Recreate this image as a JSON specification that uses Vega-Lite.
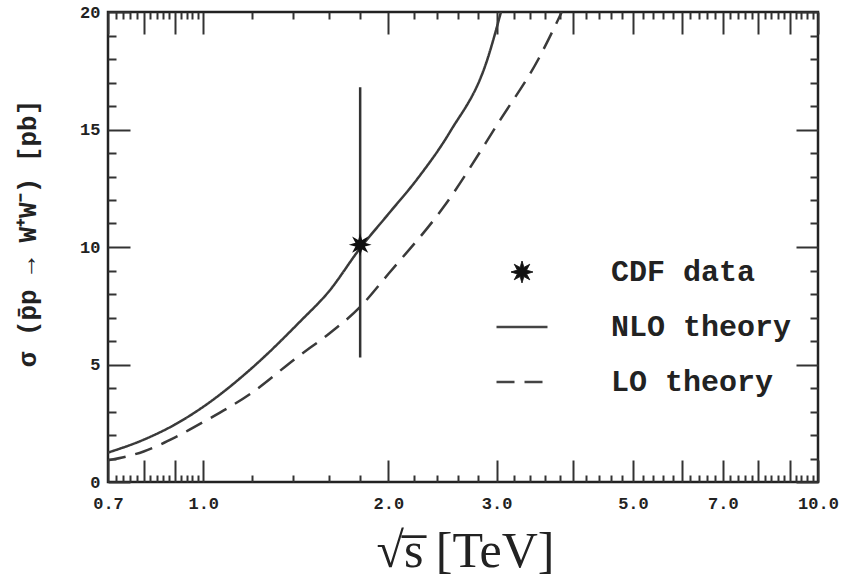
{
  "$schema": "https://vega.github.io/schema/vega-lite/v6.json",
  "width": 710,
  "height": 470,
  "autosize": {"type": "none"},
  "padding": {"left": 108, "top": 12, "right": 26, "bottom": 94},
  "background": "white",
  "datasets": {
    "theory": [
      {"series": "NLO theory", "s": 0.7, "sigma": 1.25},
      {"series": "NLO theory", "s": 0.8, "sigma": 1.8},
      {"series": "NLO theory", "s": 0.9, "sigma": 2.45},
      {"series": "NLO theory", "s": 1.0, "sigma": 3.2},
      {"series": "NLO theory", "s": 1.2, "sigma": 4.85},
      {"series": "NLO theory", "s": 1.44, "sigma": 6.85},
      {"series": "NLO theory", "s": 1.6, "sigma": 8.1},
      {"series": "NLO theory", "s": 1.8, "sigma": 9.95},
      {"series": "NLO theory", "s": 2.0, "sigma": 11.4},
      {"series": "NLO theory", "s": 2.23, "sigma": 12.9},
      {"series": "NLO theory", "s": 2.52, "sigma": 14.9},
      {"series": "NLO theory", "s": 2.9, "sigma": 18.0},
      {"series": "NLO theory", "s": 3.05, "sigma": 20.0},
      {"series": "LO theory", "s": 0.7, "sigma": 0.92},
      {"series": "LO theory", "s": 0.8, "sigma": 1.3},
      {"series": "LO theory", "s": 0.9, "sigma": 1.9},
      {"series": "LO theory", "s": 1.0, "sigma": 2.55},
      {"series": "LO theory", "s": 1.2, "sigma": 3.8},
      {"series": "LO theory", "s": 1.42, "sigma": 5.3},
      {"series": "LO theory", "s": 1.6, "sigma": 6.3},
      {"series": "LO theory", "s": 1.8, "sigma": 7.45},
      {"series": "LO theory", "s": 2.0, "sigma": 8.85},
      {"series": "LO theory", "s": 2.46, "sigma": 11.7},
      {"series": "LO theory", "s": 3.04, "sigma": 15.4},
      {"series": "LO theory", "s": 3.51, "sigma": 18.0},
      {"series": "LO theory", "s": 3.83, "sigma": 20.0}
    ],
    "cdf": [
      {"series": "CDF data", "s": 1.8, "sigma": 10.1, "lo": 5.3, "hi": 16.8}
    ]
  },
  "layer": [
    {
      "data": {"name": "theory"},
      "transform": [{"filter": "datum.series === 'NLO theory'"}],
      "mark": {"type": "line", "color": "#3a3a3a", "strokeWidth": 2.5, "interpolate": "monotone"},
      "encoding": {
        "x": {
          "field": "s", "type": "quantitative",
          "scale": {"type": "log", "domain": [0.7, 10], "nice": false},
          "axis": {
            "orient": "bottom",
            "offset": -22,
            "values": [0.7, 0.8, 0.9, 1, 2, 3, 4, 5, 6, 7, 8, 9, 10],
            "labelExpr": "indexof([0.7, 1, 2, 3, 5, 7, 10], datum.value) >= 0 ? format(datum.value, '.1f') : ''",
            "ticks": true,
            "tickSize": 22,
            "labelPadding": 13,
            "labelFlush": false,
            "title": "√s̅ [TeV]",
            "titleFont": "Liberation Serif",
            "titleFontSize": 50,
            "titleFontWeight": "normal",
            "titleColor": "#222",
            "titleX": 357,
            "titleY": 106,
            "titleBaseline": "alphabetic"
          }
        },
        "y": {
          "field": "sigma", "type": "quantitative",
          "scale": {"domain": [0, 20], "nice": false},
          "axis": {
            "orient": "left",
            "offset": -22,
            "values": [0, 5, 10, 15, 20],
            "ticks": true,
            "tickSize": 22,
            "labelPadding": 8,
            "labelFlush": false,
            "title": "σ (p̄p → W⁺W⁻) [pb]",
            "titleFont": "Liberation Mono",
            "titleFontSize": 26,
            "titleFontWeight": "bold",
            "titleColor": "#222",
            "titleX": -103,
            "titleY": 221,
            "titleBaseline": "middle",
            "titleAngle": -90
          }
        },
        "strokeDash": {
          "field": "series", "type": "nominal",
          "scale": {
            "domain": ["CDF data", "NLO theory", "LO theory"],
            "range": [[1, 0], [1, 0], [18, 10]]
          },
          "legend": {
            "orient": "none",
            "legendX": 399,
            "legendY": 245,
            "title": null,
            "padding": 0,
            "symbolSize": 2600,
            "symbolStrokeWidth": 2.5,
            "symbolStrokeColor": "#444",
            "labelFont": "Liberation Mono",
            "labelFontSize": 30,
            "labelFontWeight": "bold",
            "labelColor": "#222",
            "labelOffset": 74,
            "labelLimit": 400,
            "rowPadding": 25,
            "encode": {
              "symbols": {
                "update": {
                  "shape": {"signal": "datum.value === 'CDF data' ? 'M0,-1L0.172,-0.416L0.707,-0.707L0.416,-0.172L1,0L0.416,0.172L0.707,0.707L0.172,0.416L0,1L-0.172,0.416L-0.707,0.707L-0.416,0.172L-1,0L-0.416,-0.172L-0.707,-0.707L-0.172,-0.416Z' : 'stroke'"},
                  "size": {"signal": "datum.value === 'CDF data' ? 480 : 2600"},
                  "fill": {"signal": "datum.value === 'CDF data' ? '#111' : 'transparent'"},
                  "stroke": {"signal": "datum.value === 'CDF data' ? '#111' : '#444'"},
                  "strokeWidth": {"signal": "datum.value === 'CDF data' ? 1 : 2.5"}
                }
              }
            }
          }
        }
      }
    },
    {
      "data": {"name": "theory"},
      "transform": [{"filter": "datum.series === 'LO theory'"}],
      "mark": {"type": "line", "color": "#3a3a3a", "strokeWidth": 2.5, "interpolate": "monotone"},
      "encoding": {
        "x": {
          "field": "s", "type": "quantitative",
          "axis": {
            "orient": "bottom",
            "offset": -7,
            "values": [0.72, 0.74, 0.76, 0.78, 0.82, 0.84, 0.86, 0.88, 0.92, 0.94, 0.96, 0.98, 1.2, 1.4, 1.6, 1.8, 2.2, 2.4, 2.6, 2.8, 3.2, 3.4, 3.6, 3.8, 4.2, 4.4, 4.6, 4.8, 5.2, 5.4, 5.6, 5.8, 6.2, 6.4, 6.6, 6.8, 7.2, 7.4, 7.6, 7.8, 8.2, 8.4, 8.6, 8.8, 9.2, 9.4, 9.6, 9.8],
            "labels": false,
            "tickSize": 7,
            "title": null
          }
        },
        "y": {
          "field": "sigma", "type": "quantitative",
          "axis": {
            "orient": "left",
            "offset": -8,
            "values": [1, 2, 3, 4, 6, 7, 8, 9, 11, 12, 13, 14, 16, 17, 18, 19],
            "labels": false,
            "tickSize": 8,
            "title": null
          }
        },
        "strokeDash": {"field": "series", "type": "nominal"}
      }
    },
    {
      "data": {"name": "cdf"},
      "mark": {"type": "rule", "color": "#333", "strokeWidth": 2.5},
      "encoding": {
        "x": {
          "field": "s", "type": "quantitative",
          "axis": {
            "orient": "top",
            "offset": -22,
            "values": [0.7, 0.8, 0.9, 1, 2, 3, 4, 5, 6, 7, 8, 9, 10],
            "labels": false,
            "tickSize": 22,
            "title": null
          }
        },
        "y": {
          "field": "lo", "type": "quantitative",
          "axis": {
            "orient": "right",
            "offset": -22,
            "values": [0, 5, 10, 15, 20],
            "labels": false,
            "tickSize": 22,
            "title": null
          }
        },
        "y2": {"field": "hi"}
      }
    },
    {
      "data": {"name": "cdf"},
      "mark": {
        "type": "point",
        "shape": "M0,-1L0.172,-0.416L0.707,-0.707L0.416,-0.172L1,0L0.416,0.172L0.707,0.707L0.172,0.416L0,1L-0.172,0.416L-0.707,0.707L-0.416,0.172L-1,0L-0.416,-0.172L-0.707,-0.707L-0.172,-0.416Z",
        "filled": true,
        "color": "#111",
        "size": 520,
        "opacity": 1
      },
      "encoding": {
        "x": {
          "field": "s", "type": "quantitative",
          "axis": {
            "orient": "top",
            "offset": -7,
            "values": [0.72, 0.74, 0.76, 0.78, 0.82, 0.84, 0.86, 0.88, 0.92, 0.94, 0.96, 0.98, 1.2, 1.4, 1.6, 1.8, 2.2, 2.4, 2.6, 2.8, 3.2, 3.4, 3.6, 3.8, 4.2, 4.4, 4.6, 4.8, 5.2, 5.4, 5.6, 5.8, 6.2, 6.4, 6.6, 6.8, 7.2, 7.4, 7.6, 7.8, 8.2, 8.4, 8.6, 8.8, 9.2, 9.4, 9.6, 9.8],
            "labels": false,
            "tickSize": 7,
            "title": null
          }
        },
        "y": {
          "field": "sigma", "type": "quantitative",
          "axis": {
            "orient": "right",
            "offset": -8,
            "values": [1, 2, 3, 4, 6, 7, 8, 9, 11, 12, 13, 14, 16, 17, 18, 19],
            "labels": false,
            "tickSize": 8,
            "title": null
          }
        }
      }
    }
  ],
  "resolve": {"axis": {"x": "independent", "y": "independent"}},
  "config": {
    "view": {"stroke": "#222", "strokeWidth": 2.5},
    "axis": {
      "domain": false,
      "grid": false,
      "ticks": true,
      "tickColor": "#333",
      "tickWidth": 2,
      "labelFont": "Liberation Mono",
      "labelFontWeight": "bold",
      "labelFontSize": 17,
      "labelColor": "#222"
    }
  }
}
